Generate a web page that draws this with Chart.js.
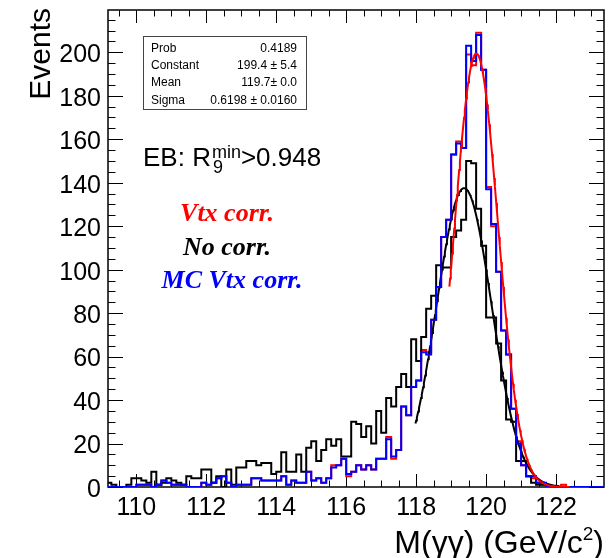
<!DOCTYPE html>
<html>
<head>
<meta charset="utf-8">
<script src="https://cdn.jsdelivr.net/npm/chart.js@4.4.1/dist/chart.umd.min.js"></script>
<style>
  html, body { margin: 0; padding: 0; background: #fff; }
</style>
</head>
<body>
<canvas id="massChart" width="609" height="558"></canvas>
<script>
// histogram binning: 1/7 GeV bins, first lower edge at 109.143
const binStart = 110 - 6 / 7;
const binWidth = 1 / 7;

// bin contents (100 bins)
const noCorr = [
  2, 2, 1, 0, 0, 1,
  4, 4, 3, 2, 7, 1, 2, 4, 3, 2,
  1, 5, 4, 4, 8, 8, 2, 5, 0, 8,
  1, 9, 9, 12, 12, 10, 11, 11, 6, 7,
  16, 7, 7, 15, 7, 18, 21, 12, 17, 22,
  19, 22, 14, 14, 30, 29, 23, 28, 20, 35,
  25, 41, 37, 46, 52, 46, 68, 58, 69, 82,
  88, 102, 101, 101, 115, 118, 123, 150, 149, 128,
  111, 78, 78, 66, 49, 31, 30, 12, 12, 5,
  2, 1, 1, 0, 0, 0, 0, 0, 0, 0,
  0, 0, 0, 0
];
const vtxCorr = [
  0, 0, 0, 0, 0, 0,
  0, 1, 1, 1, 0, 1, 3, 2, 1, 1,
  1, 0, 0, 0, 2, 1, 2, 4, 5, 2,
  0, 1, 1, 1, 4, 4, 3, 3, 3, 3,
  5, 1, 3, 2, 2, 7, 3, 4, 2, 4,
  10, 10, 13, 5, 7, 10, 8, 10, 8, 13,
  13, 23, 13, 17, 37, 33, 46, 49, 63, 62,
  77, 92, 115, 123, 153, 159, 156, 199, 194, 209,
  192, 138, 120, 99, 72, 61, 36, 21, 10, 5,
  4, 2, 1, 0, 0, 0, 1, 0, 0, 0,
  0, 0, 0, 0
];
const mcVtxCorr = [
  0, 0, 0, 0, 0, 0,
  0, 1, 1, 1, 0, 1, 3, 2, 1, 1,
  1, 0, 0, 0, 2, 1, 2, 4, 5, 2,
  0, 1, 1, 1, 4, 4, 3, 3, 3, 3,
  5, 1, 3, 2, 2, 7, 3, 4, 2, 4,
  9, 10, 13, 6, 7, 10, 8, 10, 8, 13,
  13, 22, 14, 17, 37, 33, 46, 49, 62, 61,
  77, 92, 115, 123, 153, 158, 156, 203, 196, 208,
  192, 137, 121, 99, 72, 61, 36, 20, 10, 5,
  5, 2, 2, 0, 0, 0, 0, 0, 0, 0,
  0, 0, 0, 0
];

// gaussian fits: [constant, mean, sigma] and fitted range
const vtxFitPars = [199.4, 119.72, 0.6198];
const vtxFitRange = [118.95, 122.4];
const noCorrFitPars = [137.5, 119.37, 0.79];
const noCorrFitRange = [117.98, 122.1];

// axes
const xRange = [109.19, 123.37];
const yRange = [0, 219.45];
const xTicks = [110, 112, 114, 116, 118, 120, 122];
const yTicks = [0, 20, 40, 60, 80, 100, 120, 140, 160, 180, 200];

// stats box
const statNames = ['Prob', 'Constant', 'Mean', 'Sigma'];
const statValues = ['0.4189', '199.4 \u00b1 5.4', '119.7\u00b1 0.0', '0.6198 \u00b1 0.0160'];

const SANS = '"Liberation Sans", Arial, Helvetica, sans-serif';
const SERIF = '"Liberation Serif", "Times New Roman", serif';

function histPoints(counts) {
    const pts = counts.map((c, i) => ({ x: binStart + i * binWidth, y: c }));
    pts.push({ x: binStart + counts.length * binWidth, y: counts[counts.length - 1] });
    return pts;
}

function gausPoints(pars, range) {
    const pts = [];
    for (let x = range[0]; x <= range[1] + 1e-9; x += 0.02) {
        const t = (x - pars[1]) / pars[2];
        pts.push({ x: x, y: pars[0] * Math.exp(-0.5 * t * t) });
    }
    return pts;
}

function histSet(label, counts, color, order) {
    return {
        label: label,
        data: histPoints(counts),
        stepped: 'after',
        borderColor: color,
        borderWidth: 2,
        pointRadius: 0,
        fill: false,
        order: order
    };
}

function fitSet(label, pars, range, color, order) {
    return {
        label: label,
        data: gausPoints(pars, range),
        borderColor: color,
        borderWidth: 2,
        pointRadius: 0,
        tension: 0,
        fill: false,
        order: order
    };
}

// ROOT-like frame with inward ticks on all four sides
function drawFrame(chart) {
    const c = chart.ctx;
    const a = chart.chartArea;
    const xs = chart.scales.x, ys = chart.scales.y;
    c.save();
    c.strokeStyle = '#000';
    c.lineWidth = 1.5;
    c.strokeRect(a.left, a.top, a.right - a.left, a.bottom - a.top);
    c.lineWidth = 1;
    c.beginPath();
    for (let v = 109.5; v < xRange[1]; v += 0.5) {
        const px = Math.round(xs.getPixelForValue(v)) + 0.5;
        const len = (v % 2 === 0) ? 13 : 6.5;
        c.moveTo(px, a.bottom); c.lineTo(px, a.bottom - len);
        c.moveTo(px, a.top); c.lineTo(px, a.top + len);
    }
    for (let v = 0; v < yRange[1]; v += 5) {
        const py = Math.round(ys.getPixelForValue(v)) + 0.5;
        const len = (v % 20 === 0) ? 15 : 7.5;
        c.moveTo(a.left, py); c.lineTo(a.left + len, py);
        c.moveTo(a.right, py); c.lineTo(a.right - len, py);
    }
    c.stroke();
    c.restore();
}

function drawTexts(chart) {
    const c = chart.ctx;
    c.save();
    c.fillStyle = '#000';

    // y title, right-aligned at the top
    c.save();
    c.font = '30px ' + SANS;
    c.translate(50, 8);
    c.rotate(-Math.PI / 2);
    c.textAlign = 'right';
    c.fillText('Events', 0, 0);
    c.restore();

    // x title, right-aligned
    c.font = '32px ' + SANS;
    const t1 = 'M(\u03b3\u03b3) (GeV/c';
    const w1 = c.measureText(t1).width;
    c.font = '19px ' + SANS;
    const w2 = c.measureText('2').width;
    c.font = '32px ' + SANS;
    const w3 = c.measureText(')').width;
    let x0 = 604 - (w1 + w2 + w3);
    c.textAlign = 'left';
    c.fillText(t1, x0, 553);
    c.font = '19px ' + SANS;
    c.fillText('2', x0 + w1, 540);
    c.font = '32px ' + SANS;
    c.fillText(')', x0 + w1 + w2, 553);

    // stats box
    c.strokeStyle = '#444';
    c.lineWidth = 1;
    c.fillStyle = '#fff';
    c.fillRect(143, 36, 163, 73);
    c.strokeRect(143.5, 36.5, 163, 73);
    c.fillStyle = '#000';
    c.font = '12px ' + SANS;
    statNames.forEach((n, i) => {
        const y = 52 + i * 17.2;
        c.textAlign = 'left';
        c.fillText(n, 151, y);
        c.textAlign = 'right';
        c.fillText(statValues[i], 297, y);
    });

    // selection label EB: R9^min > 0.948
    c.textAlign = 'left';
    c.font = '26px ' + SANS;
    c.fillText('EB: R', 143, 166);
    let ex = 143 + c.measureText('EB: R').width + 1;
    c.font = '18px ' + SANS;
    c.fillText('min', ex, 158);
    const wMin = c.measureText('min').width;
    c.fillText('9', ex + 1, 173);
    c.font = '26px ' + SANS;
    c.fillText('>0.948', ex + wMin, 166);

    // legend texts
    c.textAlign = 'center';
    c.font = 'italic bold 26px ' + SERIF;
    c.fillStyle = '#ff0000';
    c.fillText('Vtx corr.', 227, 221);
    c.fillStyle = '#000';
    c.fillText('No corr.', 227, 255);
    c.fillStyle = '#0000ff';
    c.fillText('MC Vtx corr.', 232, 288);
    c.restore();
}

const rootStyle = {
    id: 'rootStyle',
    beforeDatasetsDraw(chart) { drawFrame(chart); },
    afterDraw(chart) { drawTexts(chart); }
};

document.addEventListener('DOMContentLoaded', () => {
    const ctx = document.getElementById('massChart').getContext('2d');

    new Chart(ctx, {
        type: 'line',
        data: {
            datasets: [
                histSet('Vtx corr.', vtxCorr, '#ff0000', 5),
                fitSet('Vtx corr. fit', vtxFitPars, vtxFitRange, '#ff0000', 0),
                histSet('No corr.', noCorr, '#000000', 3),
                fitSet('No corr. fit', noCorrFitPars, noCorrFitRange, '#000000', 2),
                histSet('MC Vtx corr.', mcVtxCorr, '#0000ff', 1)
            ]
        },
        options: {
            responsive: false,
            animation: false,
            layout: { padding: { left: 0, right: 5, top: 10, bottom: 0 } },
            plugins: {
                legend: { display: false },
                tooltip: { enabled: false }
            },
            scales: {
                x: {
                    type: 'linear',
                    min: xRange[0],
                    max: xRange[1],
                    grid: { display: false, drawTicks: false },
                    border: { display: false },
                    afterBuildTicks: s => { s.ticks = xTicks.map(v => ({ value: v })); },
                    afterFit: s => {
                        s.height = 71;
                        s.paddingLeft = 0; s.paddingRight = 0;
                        s.paddingTop = 0; s.paddingBottom = 0;
                    },
                    ticks: {
                        padding: 6,
                        autoSkip: false,
                        maxRotation: 0,
                        color: '#000',
                        font: { family: SANS, size: 25 }
                    }
                },
                y: {
                    min: yRange[0],
                    max: yRange[1],
                    grid: { display: false, drawTicks: false },
                    border: { display: false },
                    afterBuildTicks: s => { s.ticks = yTicks.map(v => ({ value: v })); },
                    afterFit: s => {
                        s.width = 108;
                        s.paddingLeft = 0; s.paddingRight = 0;
                        s.paddingTop = 0; s.paddingBottom = 0;
                    },
                    ticks: {
                        padding: 7,
                        labelOffset: 3,
                        color: '#000',
                        font: { family: SANS, size: 25 }
                    }
                }
            }
        },
        plugins: [rootStyle]
    });
});
</script>
</body>
</html>
